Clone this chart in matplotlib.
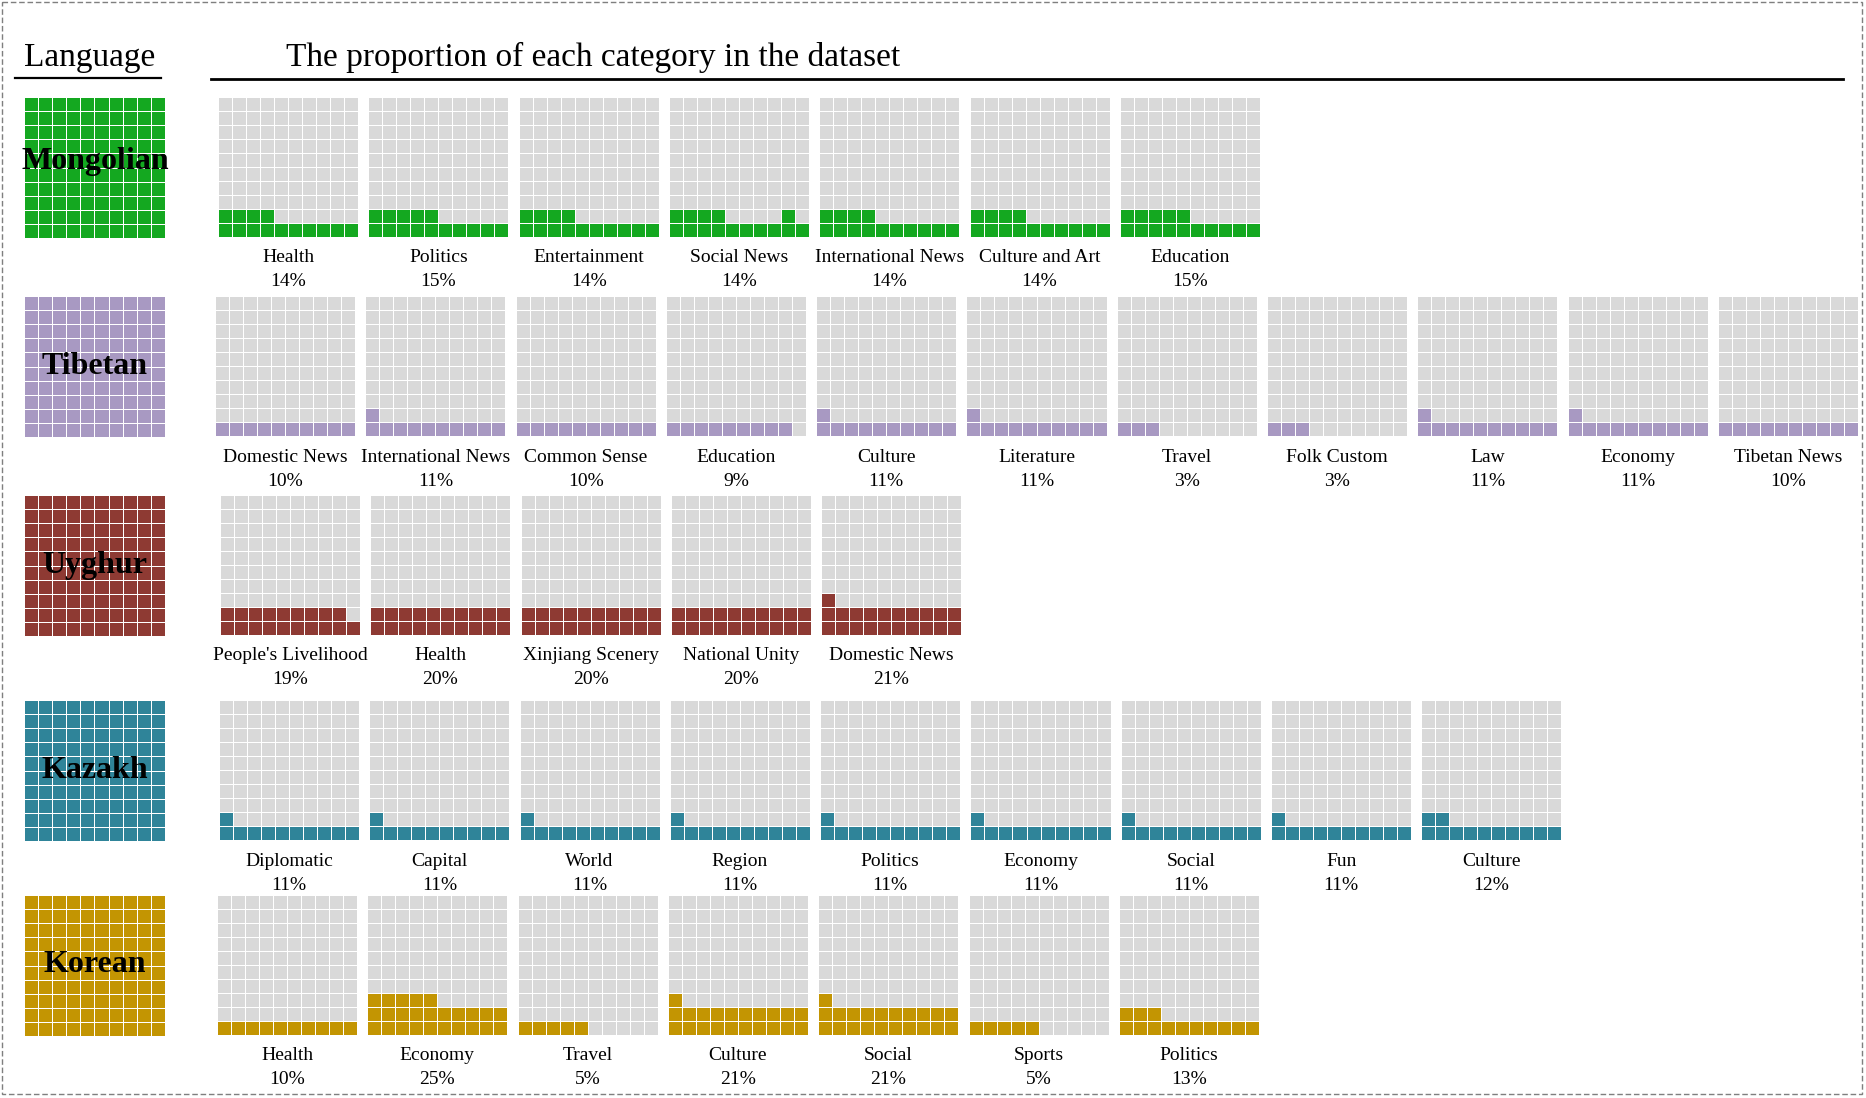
import matplotlib
matplotlib.use("Agg")
import matplotlib.pyplot as plt
import numpy as np
from matplotlib.colors import ListedColormap
from matplotlib.patches import Rectangle

plt.rcParams['font.family'] = ['Liberation Serif', 'DejaVu Serif']

# data
languages = ['Mongolian', 'Tibetan', 'Uyghur', 'Kazakh', 'Korean']
lang_colors = ['#14a820', '#a899c2', '#8e3a33', '#2f8499', '#c39502']

mongolian_cats = ['Health', 'Politics', 'Entertainment', 'Social News',
                  'International News', 'Culture and Art', 'Education']
mongolian_pct = [14, 15, 14, 14, 14, 14, 15]

tibetan_cats = ['Domestic News', 'International News', 'Common Sense', 'Education',
                'Culture', 'Literature', 'Travel', 'Folk Custom', 'Law', 'Economy',
                'Tibetan News']
tibetan_pct = [10, 11, 10, 9, 11, 11, 3, 3, 11, 11, 10]

uyghur_cats = ["People's Livelihood", 'Health', 'Xinjiang Scenery', 'National Unity',
               'Domestic News']
uyghur_pct = [19, 20, 20, 20, 21]

kazakh_cats = ['Diplomatic', 'Capital', 'World', 'Region', 'Politics', 'Economy',
               'Social', 'Fun', 'Culture']
kazakh_pct = [11, 11, 11, 11, 11, 11, 11, 11, 12]

korean_cats = ['Health', 'Economy', 'Travel', 'Culture', 'Social', 'Sports', 'Politics']
korean_pct = [10, 25, 5, 21, 21, 5, 13]

# one stray filled cell in the original (row, col from bottom-left)
extra_cells = {('Mongolian', 'Social News'): [(1, 8)]}

all_cats = [mongolian_cats, tibetan_cats, uyghur_cats, kazakh_cats, korean_cats]
all_pct = [mongolian_pct, tibetan_pct, uyghur_pct, kazakh_pct, korean_pct]

W, H = 1866, 1098
fig = plt.figure(figsize=(W / 100, H / 100), dpi=100)
bg = fig.add_axes([0, 0, 1, 1])
bg.set_xlim(0, W)
bg.set_ylim(H, 0)
bg.axis('off')


def px_axes(x0, y0, w, h):
    return fig.add_axes([x0 / W, 1 - (y0 + h) / H, w / W, h / H])


def waffle(ax, n, color, extra=()):
    grid = np.zeros((10, 10))
    for i in range(n):
        grid[i // 10, i % 10] = 1
    for r, c in extra:
        grid[r, c] = 1
    ax.pcolormesh(grid, cmap=ListedColormap(['#d9d9d9', color]), vmin=0, vmax=1,
                  edgecolors='white', linewidth=0.55)
    ax.set_xlim(0, 10)
    ax.set_ylim(0, 10)
    ax.axis('off')


# frame and headers
bg.add_patch(Rectangle((2, 2), W - 6, H - 6, fill=False, edgecolor='#7f7f7f',
                       linestyle=(0, (4, 2)), linewidth=1))
bg.text(24, 58, 'Language', fontsize=24, ha='left', va='center')
bg.plot([15, 161], [78, 78], color='black', linewidth=1.6)
bg.text(286, 57, 'The proportion of each category in the dataset', fontsize=24,
        ha='left', va='center')
bg.plot([211, 1843], [79, 79], color='black', linewidth=2)

row_top = [97, 296, 495, 700, 895]
row_x0 = [218, 215, 220, 219, 217]
size = 140
pitch = 150.3

for k, lang in enumerate(languages):
    top = row_top[k]
    color = lang_colors[k]
    ax = px_axes(24, top, 141, 141)
    waffle(ax, 100, color)
    bg.text(95, top + 70 - (6 if k == 0 else 0), lang, fontsize=23, fontweight='bold',
            ha='center', va='center', zorder=5)
    for j, (cat, p) in enumerate(zip(all_cats[k], all_pct[k])):
        x0 = row_x0[k] + j * pitch
        ax = px_axes(x0, top, size, size)
        waffle(ax, p, color, extra_cells.get((lang, cat), ()))
        bg.text(x0 + size / 2, top + size + 21, cat, fontsize=14, ha='center', va='center')
        bg.text(x0 + size / 2, top + size + 45, f'{p}%', fontsize=14, ha='center', va='center')

# language labels on top of their waffles
for t in bg.texts:
    t.set_zorder(10)
bg.set_zorder(3)
bg.patch.set_alpha(0)

fig.savefig('out.png', dpi=100)
